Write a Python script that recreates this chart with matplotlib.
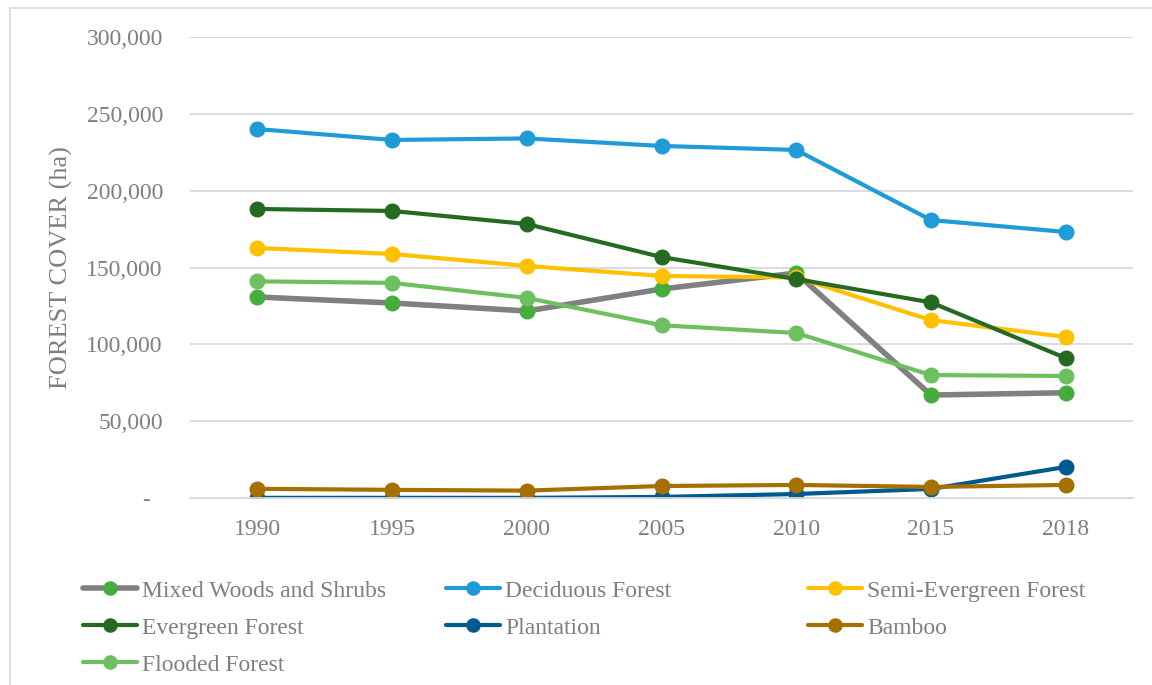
import matplotlib.pyplot as plt
from matplotlib.patches import Rectangle
from matplotlib.ticker import FuncFormatter, MultipleLocator

plt.rcParams['font.family'] = ['Liberation Serif', 'DejaVu Serif']

years = ['1990', '1995', '2000', '2005', '2010', '2015', '2018']

mixed = [130800, 126900, 121700, 136000, 146400, 67000, 68500]
deciduous = [240100, 233000, 234000, 229100, 226500, 180900, 173100]
semi_evergreen = [162700, 158800, 151000, 144500, 143500, 115800, 104800]
evergreen = [188100, 186800, 178300, 156800, 142500, 127300, 91100]
plantation = [100, 100, 100, 700, 2600, 5900, 20200]
bamboo = [6000, 5300, 4800, 7800, 8500, 7200, 8500]
flooded = [141000, 140000, 130200, 112400, 107400, 80000, 79400]

names = ['Mixed Woods and Shrubs', 'Deciduous Forest', 'Semi-Evergreen Forest',
         'Evergreen Forest', 'Plantation', 'Bamboo', 'Flooded Forest']
series = [mixed, deciduous, semi_evergreen, evergreen, plantation, bamboo, flooded]
line_colors = ['#808080', '#1F9BD7', '#FFC000', '#256A21', '#005A8F', '#A57000', '#6DBF5F']
marker_colors = ['#44AD3B', '#1F9BD7', '#FFC000', '#256A21', '#005A8F', '#A57000', '#6DBF5F']
widths = [4.0, 3.0, 3.0, 3.0, 3.0, 3.0, 3.0]

grey = '#7F7F7F'
fs = 17

fig = plt.figure(figsize=(11.52, 6.85), dpi=100)
fig.patches.append(Rectangle((10 / 1152, -0.01), 1.0, 1 - 8 / 685 + 0.01,
                             transform=fig.transFigure, fill=False,
                             edgecolor='#D9D9D9', linewidth=1.2))
ax = fig.add_axes([190 / 1152, 1 - 498 / 685, 943 / 1152, 461 / 685])

x = list(range(len(years)))
lines = []
for name, vals, lc, mc, lw in zip(names, series, line_colors, marker_colors, widths):
    ln, = ax.plot(x, vals, color=lc, lw=lw, marker='o', markersize=10.5,
                  markerfacecolor=mc, markeredgecolor=mc, label=name,
                  solid_capstyle='round')
    lines.append(ln)

ax.set_xlim(-0.5, len(years) - 0.5)
ax.set_ylim(0, 300000)
ax.set_xticks(x)
ax.set_xticklabels(years)
ax.yaxis.set_major_locator(MultipleLocator(50000))
ax.yaxis.set_major_formatter(FuncFormatter(lambda v, p: '-  ' if v == 0 else f'{v:,.0f}'))
ax.grid(axis='y', color='#D9D9D9', lw=1.3)
ax.set_axisbelow(True)
for s in ['top', 'right', 'left']:
    ax.spines[s].set_visible(False)
ax.spines['bottom'].set_color('#D9D9D9')
ax.spines['bottom'].set_linewidth(1.3)
ax.tick_params(length=0, labelsize=fs, colors=grey)
ax.tick_params(axis='x', pad=15)
ax.tick_params(axis='y', pad=19.5)
ax.set_ylabel('FOREST COVER (ha)', fontsize=19, color=grey)
ax.yaxis.set_label_coords(-117 / 943, 0.5)

# Excel-style legend: three equal-width columns, filled row by row
cols = [[0, 3, 6], [1, 4], [2, 5]]
col_x = [83 / 1152, 446 / 1152, 808 / 1152]
for cx, idx in zip(col_x, cols):
    fig.legend([lines[i] for i in idx], [names[i] for i in idx],
               loc='upper left', bbox_to_anchor=(cx, 1 - 580 / 685),
               frameon=False, fontsize=fs, labelcolor=grey,
               handlelength=2.3, handletextpad=0.2, labelspacing=0.66,
               borderaxespad=0, borderpad=0, markerscale=0.9)

fig.savefig('out.png', dpi=100)
